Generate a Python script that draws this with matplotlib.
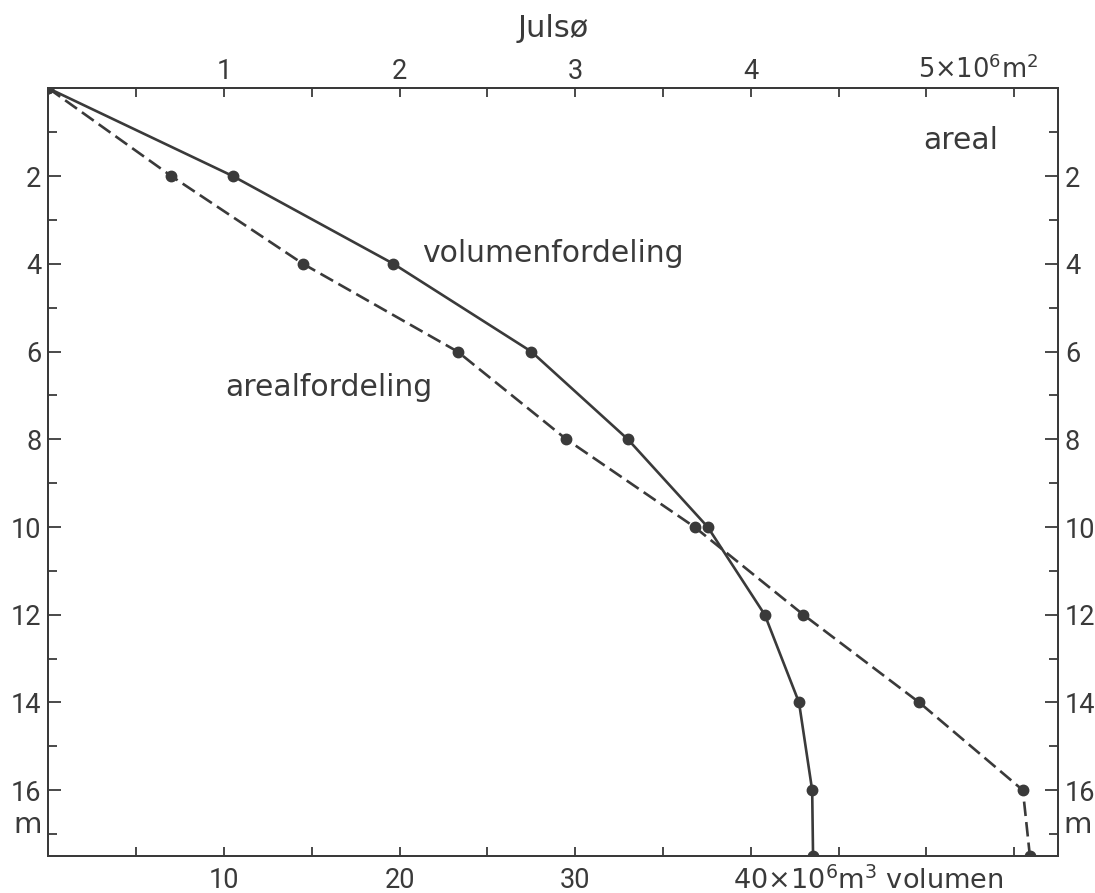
import matplotlib
matplotlib.use("Agg")
import matplotlib.pyplot as plt
import numpy as np

NARROW = ['Roboto', 'DejaVu Sans']
WORD = ['DejaVu Sans']
plt.rcParams['font.family'] = NARROW
plt.rcParams['mathtext.default'] = 'regular'

INK = '#3a3a3a'

# data
depth = [0, 2, 4, 6, 8, 10, 12, 14, 16, 17.5]                     # m
volume = [0, 10.5, 19.65, 27.5, 33.0, 37.55, 40.8, 42.75, 43.5, 43.55]  # 10^6 m^3
area = [0, 0.70, 1.45, 2.33, 2.95, 3.68, 4.30, 4.96, 5.55, 5.59]       # 10^6 m^2

y_major = [2, 4, 6, 8, 10, 12, 14, 16]
y_minor = [1, 3, 5, 7, 9, 11, 13, 15, 17]
vol_major = [10, 20, 30, 40, 50]
vol_labels = ['10', '20', '30', '', '']
vol_minor = [5, 15, 25, 35, 45, 55]
area_major = [1, 2, 3, 4, 5]
area_labels = ['1', '2', '3', '4', '']
area_minor = [0.5, 1.5, 2.5, 3.5, 4.5, 5.5]

fig = plt.figure(figsize=(10.95, 8.93), dpi=100)
ax = fig.add_axes([0.0442, 0.0414, 0.9220, 0.8597])
ax2 = ax.twiny()

ax.set_xlim(0, 57.5)
ax.set_ylim(17.5, 0)
ax2.set_xlim(0, 5.75)

ax.plot(volume, depth, color=INK, lw=1.9, marker='o', ms=7.5,
        mfc=INK, mec=INK, solid_joinstyle='round')
ax2.plot(area, depth, color=INK, lw=1.9, marker='o', ms=7.5,
         mfc=INK, mec=INK, linestyle=(0, (5.5, 2.3)))

for a in (ax, ax2):
    for s in a.spines.values():
        s.set_color(INK)
        s.set_linewidth(1.4)

fs = 19.5
ax.set_yticks(y_major)
ax.set_yticks(y_minor, minor=True)
ax.set_yticklabels([str(v) for v in y_major])
ax.set_xticks(vol_major)
ax.set_xticks(vol_minor, minor=True)
ax.set_xticklabels(vol_labels)
ax.tick_params(axis='y', which='both', direction='in', left=True, right=True,
               labelleft=True, labelright=True, color=INK, labelcolor=INK,
               labelsize=fs, width=1.3)
ax.tick_params(axis='y', which='major', length=9.5, pad=5)
ax.tick_params(axis='y', which='minor', length=6.5)
ax.tick_params(axis='x', which='both', direction='in', bottom=True, top=False,
               labelbottom=True, labeltop=False, color=INK, labelcolor=INK,
               labelsize=fs, length=6.5, width=1.3, pad=8)
for lbl in ax.get_yticklabels(which='major'):
    pass
ax.yaxis.set_tick_params(which='major', pad=5)
# right-side labels closer to the frame
for t in ax.yaxis.get_major_ticks():
    t.label2.set_x(1.0)

ax2.set_xticks(area_major)
ax2.set_xticks(area_minor, minor=True)
ax2.set_xticklabels(area_labels)
ax2.tick_params(axis='x', which='both', direction='in', top=True, bottom=False,
                labeltop=True, labelbottom=False, color=INK, labelcolor=INK,
                labelsize=fs, length=6.5, width=1.3, pad=2.5)

# compound axis labels
cfs = 18.5
half5 = 0.318 * cfs
ax2.annotate('5×10$^6$m$^2$', xy=(5, 1), xycoords=('data', 'axes fraction'),
             xytext=(-half5, 7.5), textcoords='offset points',
             ha='left', va='baseline', fontsize=cfs, color=INK, family=WORD)
cfs2 = 19.5
half40 = 0.636 * cfs2
ax.annotate('40×10$^6$m$^3$ volumen', xy=(40, 0), xycoords=('data', 'axes fraction'),
            xytext=(-half40, -23.5), textcoords='offset points',
            ha='left', va='baseline', fontsize=cfs2, color=INK, family=WORD)

ytr = ax.get_yaxis_transform()
ax.text(-0.0202, 16.8, 'm', transform=ytr, ha='center', va='center',
        fontsize=21, color=INK, family=WORD)
ax.text(1.0198, 16.8, 'm', transform=ytr, ha='center', va='center',
        fontsize=21, color=INK, family=WORD)

wfs = 21.5
ax.text(21.3, 3.77, 'volumenfordeling', ha='left', va='center', fontsize=wfs,
        color=INK, family=WORD)
ax.text(10.1, 6.82, 'arealfordeling', ha='left', va='center', fontsize=wfs,
        color=INK, family=WORD)
ax.text(49.8, 1.18, 'areal', ha='left', va='center', fontsize=wfs,
        color=INK, family=WORD)

fig.text(0.505, 0.9686, 'Julsø', ha='center', va='center', fontsize=22,
         color=INK, family=WORD)

fig.savefig('out.png', dpi=100, facecolor='white')
